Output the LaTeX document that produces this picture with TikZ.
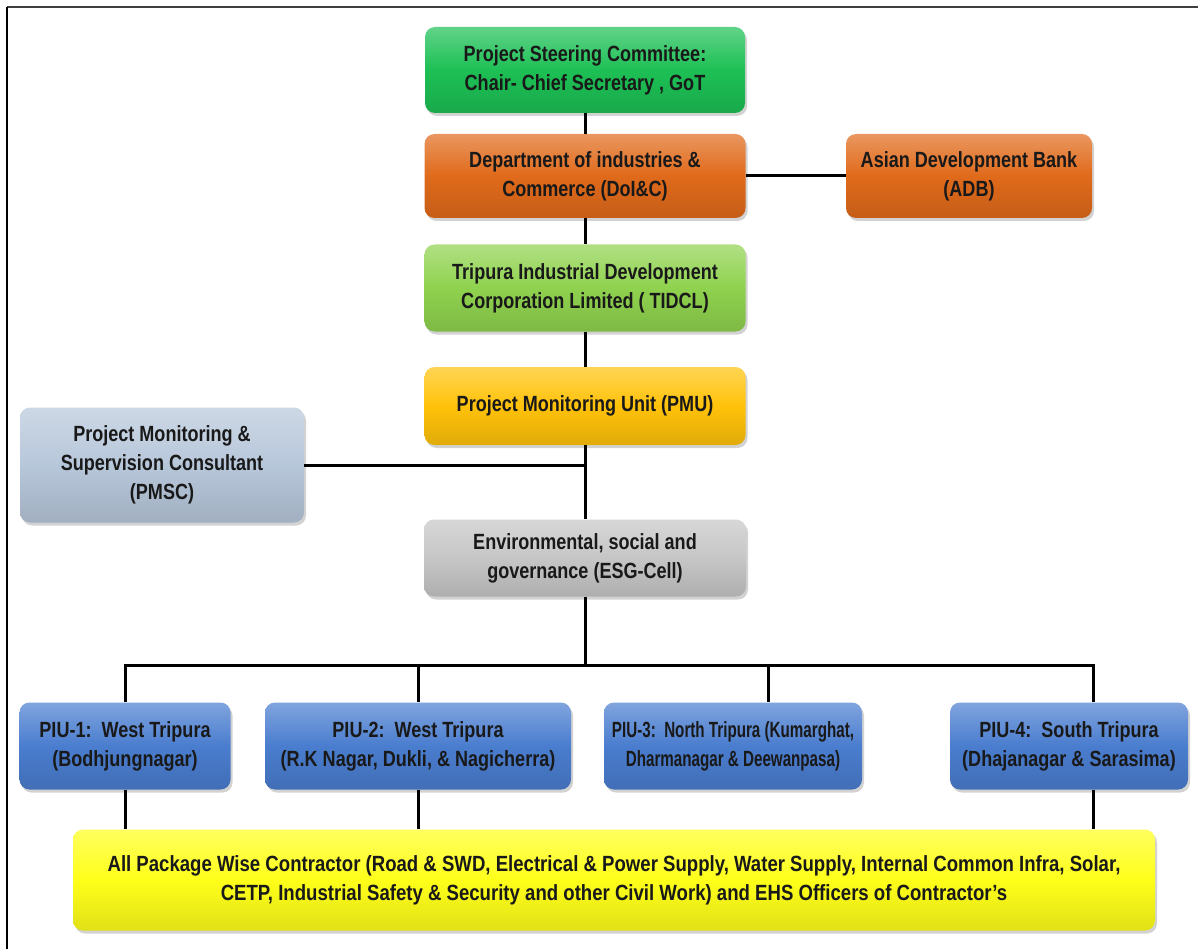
\documentclass[tikz,border=0pt]{standalone}
\usepackage{fontspec}
\setmainfont{Liberation Sans}[FakeStretch=0.82]
\newfontfamily\narrowfont{Liberation Sans}[FakeStretch=0.69]
\newfontfamily\widerfont{Liberation Sans}[FakeStretch=0.845]
\usetikzlibrary{shadows}
\definecolor{cpsc}{HTML}{1DC055}
\definecolor{cdoi}{HTML}{E06A1B}
\definecolor{ctid}{HTML}{8FD24E}
\definecolor{cpmu}{HTML}{FFC20A}
\definecolor{cpmsc}{HTML}{B7C7DA}
\definecolor{cesg}{HTML}{C6C6C6}
\definecolor{cpiu}{HTML}{4A7DCF}
\definecolor{cyel}{HTML}{FFFF1A}
\tikzset{
  box/.style={rounded corners=10pt, inner sep=0pt, align=center,
    top color=#1!70!white, bottom color=#1!88!black, middle color=#1,
    drop shadow={shadow xshift=2pt, shadow yshift=-3pt, opacity=0.35},
    font=\fontsize{22}{29}\selectfont\bfseries, text=black!90},
  link/.style={line width=3pt, black}
}
\begin{document}
\begin{tikzpicture}[x=1pt,y=-1pt]
\useasboundingbox (0,0) rectangle (1198,949);
\fill[white] (0,0) rectangle (1198,949);
\draw[line width=2pt, black!75] (7,7) -- (1198,7);
\draw[line width=1.5pt, black] (7,7) -- (7,949);

\node[box=cpsc, minimum width=320pt, minimum height=86pt] (psc) at (585,70)
  {Project Steering Committee:\\Chair- Chief Secretary , GoT};
\node[box=cdoi, minimum width=321pt, minimum height=84pt] (doi) at (585,176)
  {Department of industries \&\\Commerce (DoI\&C)};
\node[box=cdoi, minimum width=246pt, minimum height=84pt] (adb) at (969,176)
  {Asian Development Bank\\(ADB)};
\node[box=ctid, minimum width=321pt, minimum height=87pt] (tid) at (585,288)
  {Tripura Industrial Development\\Corporation Limited ( TIDCL)};
\node[box=cpmu, minimum width=321pt, minimum height=78pt] (pmu) at (585,406)
  {Project Monitoring Unit (PMU)};
\node[box=cpmsc, minimum width=284pt, minimum height=115pt] (pmsc) at (162,465)
  {Project Monitoring \&\\Supervision Consultant\\(PMSC)};
\node[box=cesg, minimum width=322pt, minimum height=77pt] (esg) at (585,558)
  {Environmental, social and\\governance (ESG-Cell)};
\node[box=cpiu, minimum width=211pt, minimum height=87pt] (piu1) at (125,746)
  {PIU-1:\ \ West Tripura\\(Bodhjungnagar)};
\node[box=cpiu, minimum width=306pt, minimum height=87pt] (piu2) at (418,746)
  {PIU-2:\ \ West Tripura\\(R.K Nagar, Dukli, \& Nagicherra)};
\node[box=cpiu, minimum width=258pt, minimum height=87pt,
  font=\fontsize{22}{29}\narrowfont\bfseries] (piu3) at (733,746)
  {PIU-3:\ \ North Tripura (Kumarghat,\\Dharmanagar \& Deewanpasa)};
\node[box=cpiu, minimum width=238pt, minimum height=87pt] (piu4) at (1069,746)
  {PIU-4:\ \ South Tripura\\(Dhajanagar \& Sarasima)};
\node[box=cyel, minimum width=1082pt, minimum height=101pt,
  font=\fontsize{22}{29}\widerfont\bfseries] (yel) at (614,880)
  {All Package Wise Contractor (Road \& SWD, Electrical \& Power Supply, Water Supply, Internal Common Infra, Solar,\\CETP, Industrial Safety \& Security and other Civil Work) and EHS Officers of Contractor’s};

\coordinate (bus) at (585,665);
\coordinate (d1) at (125,665);
\coordinate (d2) at (418,665);
\coordinate (d3) at (768,665);
\coordinate (d4) at (1093,665);
\coordinate (e4) at (1093,790);

\draw[link] (psc.south) -- (doi.north);
\draw[link] (doi.east) -- (adb.west);
\draw[link] (doi.south) -- (tid.north);
\draw[link] (tid.south) -- (pmu.north);
\draw[link] (pmu.south) -- (esg.north);
\draw[link] (pmsc.east) -- (pmsc.east -| pmu.south);
\draw[link] (esg.south) -- (bus);
\draw[link, line cap=rect] (d1) -- (d4);
\draw[link] (d1) -- (piu1.north);
\draw[link] (d2) -- (piu2.north);
\draw[link] (d3) -- (d3 |- piu3.north);
\draw[link] (d4) -- (d4 |- piu4.north);
\draw[link] (piu1.south) -- (piu1.south |- yel.north);
\draw[link] (piu2.south) -- (piu2.south |- yel.north);
\draw[link] (e4) -- (e4 |- yel.north);
\end{tikzpicture}
\end{document}
